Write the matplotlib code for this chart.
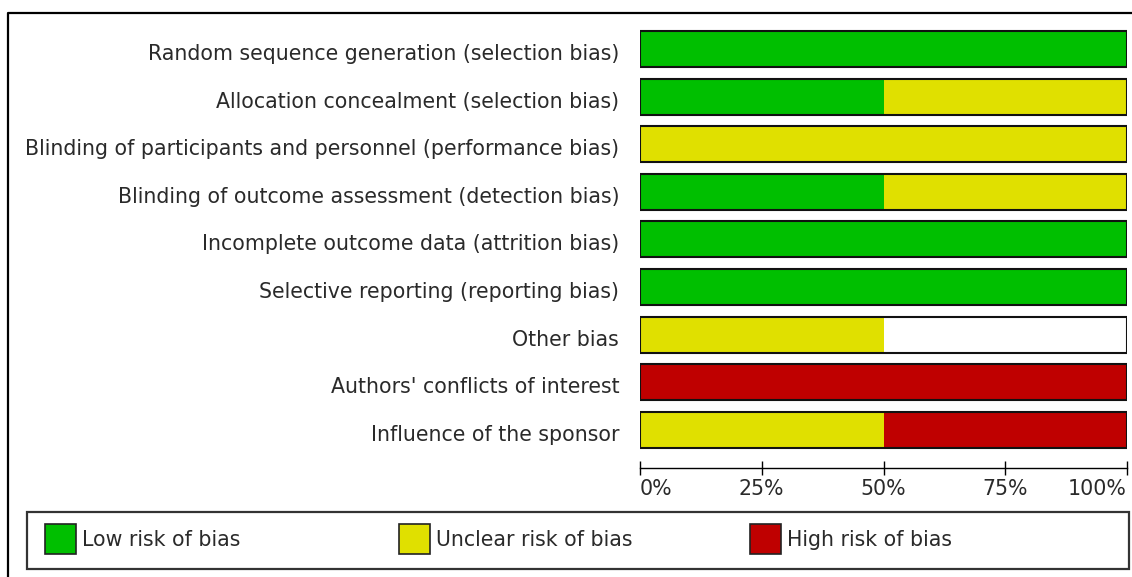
import matplotlib
matplotlib.use("Agg")
import matplotlib.pyplot as plt
import matplotlib.transforms as mtransforms
from matplotlib.patches import Rectangle
from matplotlib.lines import Line2D

# Risk of bias graph
domains = [
    "Random sequence generation (selection bias)",
    "Allocation concealment (selection bias)",
    "Blinding of participants and personnel (performance bias)",
    "Blinding of outcome assessment (detection bias)",
    "Incomplete outcome data (attrition bias)",
    "Selective reporting (reporting bias)",
    "Other bias",
    "Authors' conflicts of interest",
    "Influence of the sponsor",
]
low = [100, 50, 0, 50, 100, 100, 0, 0, 0]
unclear = [0, 50, 100, 50, 0, 0, 50, 0, 50]
high = [0, 0, 0, 0, 0, 0, 0, 100, 50]

xticks = [0, 25, 50, 75, 100]
xticklabels = ["0%", "25%", "50%", "75%", "100%"]
legend_labels = ["Low risk of bias", "Unclear risk of bias", "High risk of bias"]

GREEN = "#00bf00"
YELLOW = "#e0e000"
RED = "#bf0000"
TXT = "#2a2a2a"

W, H = 1132, 577
fig = plt.figure(figsize=(W / 100, H / 100), dpi=100)
plt.rcParams['font.family'] = ['DejaVu Sans']
FS = 14.8

# axes placed in pixel terms
top_px, bot_px = 25.2, 453.6
ax = fig.add_axes([640 / W, 1 - bot_px / H, 487 / W, (bot_px - top_px) / H])
ax.set_xlim(0, 100)
ax.set_ylim(len(domains) - 0.5, -0.5)

bh = 0.756
for i, name in enumerate(domains):
    left = 0
    for vals, col in [(low, GREEN), (unclear, YELLOW), (high, RED)]:
        v = vals[i]
        if v > 0:
            ax.barh(i, v, left=left, height=bh, color=col, edgecolor="none")
        left += v
    ax.add_patch(Rectangle((0, i - bh / 2), 100, bh, fill=False,
                           edgecolor="#111111", linewidth=1.5, zorder=3))

ax.set_yticks(range(len(domains)))
ax.set_yticklabels(domains, fontsize=FS, color=TXT)
ax.tick_params(axis="y", length=0, pad=15)
# labels sit a little below the bar centre
shift = mtransforms.ScaledTranslation(0, -3 / 100, fig.dpi_scale_trans)
for lab in ax.get_yticklabels():
    lab.set_transform(lab.get_transform() + shift)

for s in ["top", "right", "left"]:
    ax.spines[s].set_visible(False)
ax.spines["bottom"].set_position(("outward", 10.4))
ax.spines["bottom"].set_linewidth(1.0)
ax.set_xticks(xticks)
ax.set_xticklabels(xticklabels, fontsize=FS, color=TXT)
ax.tick_params(axis="x", direction="inout", length=10, width=1.0, pad=3)
labs = ax.get_xticklabels()
labs[0].set_horizontalalignment("left")
labs[-1].set_horizontalalignment("right")

# outer frame (left and top lines)
fig.add_artist(Line2D([8 / W, 8 / W, 1.0], [0.0, 1 - 13 / H, 1 - 13 / H],
                      transform=fig.transFigure, color="black", linewidth=1.6))

# legend box
fig.add_artist(Rectangle((27 / W, 1 - 569 / H), (1129 - 27) / W, 57 / H,
                         transform=fig.transFigure, fill=False,
                         edgecolor="#333333", linewidth=1.6))
patch_x = [45, 399, 750]
for px, lab, col in zip(patch_x, legend_labels, [GREEN, YELLOW, RED]):
    fig.add_artist(Rectangle((px / W, 1 - 554 / H), 31 / W, 30 / H,
                             transform=fig.transFigure, facecolor=col,
                             edgecolor="#222222", linewidth=1.2))
    fig.text((px + 37) / W, 1 - 540 / H, lab, fontsize=FS, color=TXT,
             va="center", ha="left")

fig.savefig("out.png", dpi=100)
